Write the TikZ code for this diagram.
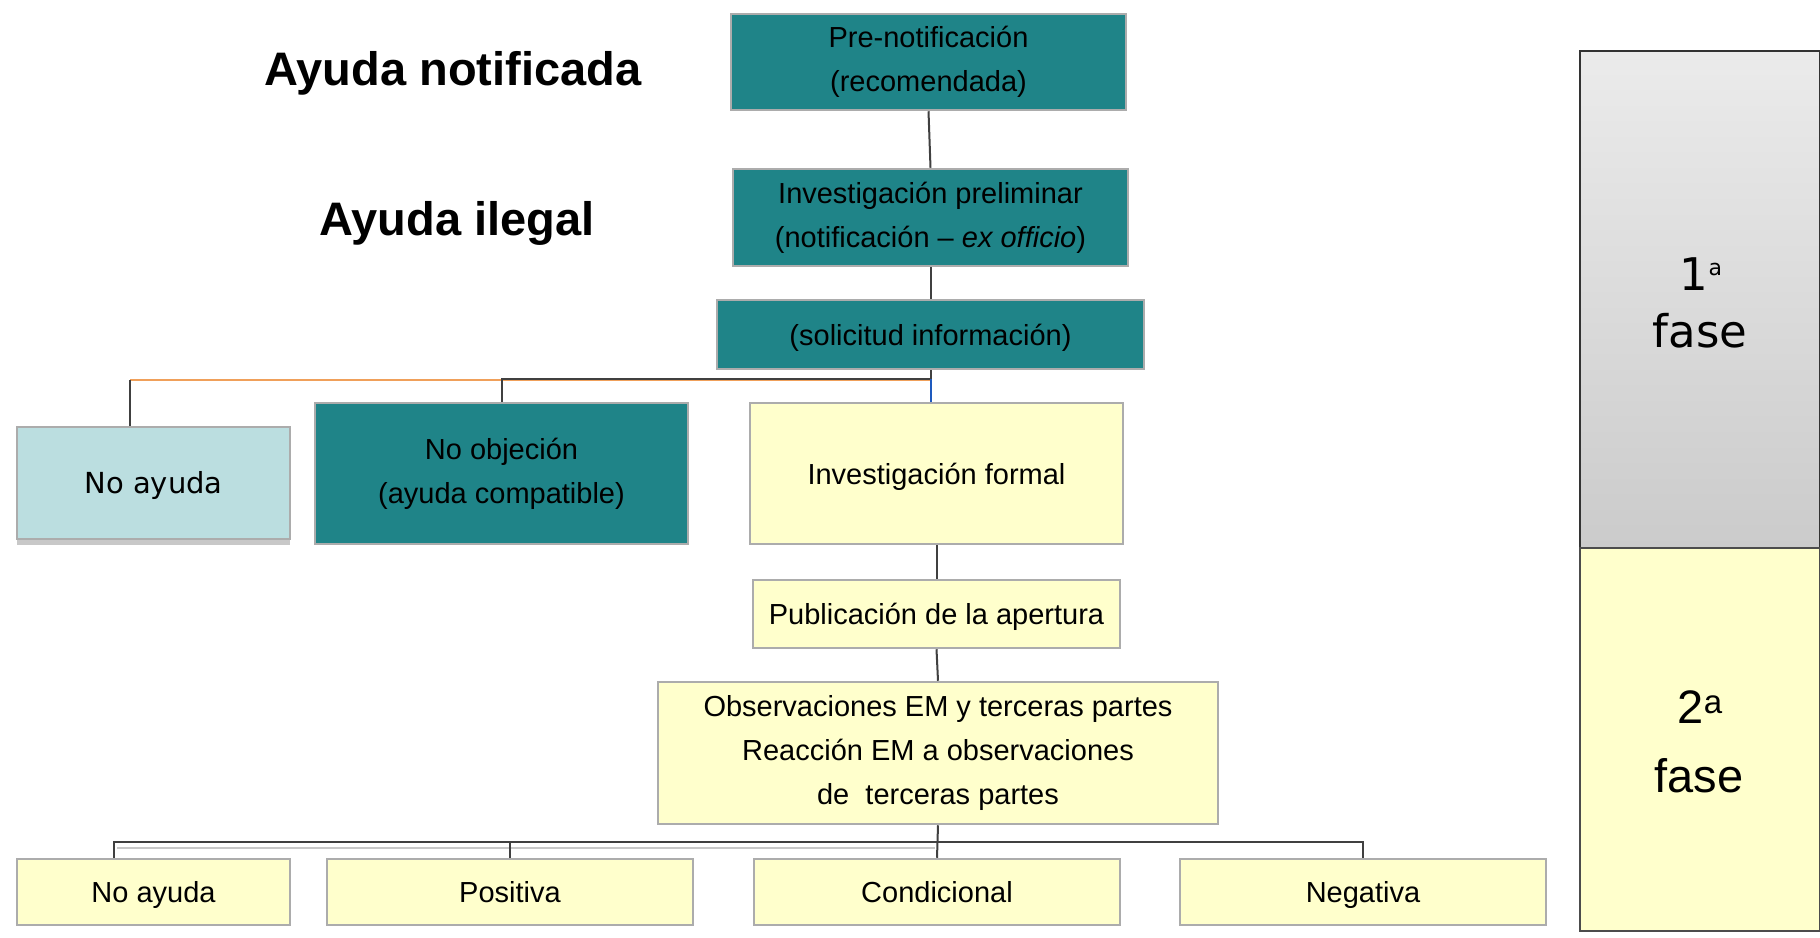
\documentclass[tikz,border=0pt]{standalone}
\usepackage{fontspec}
\setmainfont{Liberation Sans}
\newfontfamily\dejavu{DejaVu Sans}
\usetikzlibrary{calc}
\definecolor{tealfill}{RGB}{31,132,136}
\definecolor{lblue}{RGB}{187,222,224}
\definecolor{lyellow}{RGB}{255,255,204}
\definecolor{bordergray}{RGB}{172,172,172}
\definecolor{linegray}{RGB}{64,64,64}
\definecolor{lorange}{RGB}{240,160,90}
\definecolor{lineblue}{RGB}{30,90,190}
\definecolor{phgraytop}{RGB}{235,235,235}
\definecolor{phgraybot}{RGB}{203,203,203}
\definecolor{shadowgray}{RGB}{200,200,200}
\begin{document}
\begin{tikzpicture}[x=1pt,y=-1pt,
  box/.style={draw=bordergray,line width=2.5pt,inner sep=0pt,align=center,
    font=\fontsize{29}{44}\selectfont,text=black},
  oneline/.style={text height=21pt,text depth=0pt},
  tealbox/.style={box,fill=tealfill},
  ybox/.style={box,fill=lyellow},
  bluebox/.style={box,fill=lblue},
  conn/.style={draw=linegray,line width=2pt},
  title/.style={font=\bfseries\fontsize{47}{56}\selectfont,anchor=base},
  phaseone/.style={font=\dejavu\fontsize{45}{57}\selectfont,anchor=base},
  phasetwo/.style={font=\fontsize{47}{57}\selectfont,anchor=base}]
\useasboundingbox (0,0) rectangle (1820,937);
\fill[white] (0,0) rectangle (1820,937);

% titles
\node[title] (t1) at (453,85) {Ayuda notificada};
\node[title] (t2) at (457,235) {Ayuda ilegal};

% phase column
\node[draw=black!80,line width=2pt,top color=phgraytop,bottom color=phgraybot,
  minimum width=240pt,minimum height=497pt,inner sep=0pt] (ph1) at (1700,299.5) {};
\node[draw=black!70,line width=2pt,fill=lyellow,
  minimum width=240pt,minimum height=383pt,inner sep=0pt] (ph2) at (1700,739.5) {};
\node[phaseone] (ph1a) at (1701,290) {1\raisebox{15pt}{\fontsize{22}{22}\selectfont a}};
\node[phaseone] (ph1b) at (1700,347) {fase};
\node[phasetwo] (ph2a) at (1700,723) {2\raisebox{10pt}{\fontsize{33}{33}\selectfont a}};
\node[phasetwo] (ph2b) at (1699,792) {fase};

% upper chain
\node[tealbox,minimum width=395pt,minimum height=96pt] (pre) at (928.5,62) {Pre-notificación\\(recomendada)};
\node[tealbox,minimum width=395pt,minimum height=97pt] (prel) at (930.5,217.5) {Investigación preliminar\\(notificación – \textit{ex officio})};
\node[tealbox,oneline,minimum width=427pt,minimum height=69pt] (sol) at (930.5,334.5) {(solicitud información)};

% first-phase outcomes
\fill[shadowgray] (17,536) rectangle (290,545);
\node[bluebox,oneline,minimum width=273pt,minimum height=112pt,font=\dejavu\fontsize{29}{44}\selectfont] (noay1) at (153.5,483) {No ayuda};
\node[tealbox,minimum width=373pt,minimum height=141pt] (noobj) at (501.5,473.5) {No objeción\\(ayuda compatible)};
\node[ybox,oneline,minimum width=373pt,minimum height=141pt] (formal) at (936.5,473.5) {Investigación formal};

% second phase
\node[ybox,oneline,minimum width=367pt,minimum height=68pt] (publ) at (936.5,614) {Publicación de la apertura};
\node[ybox,minimum width=560pt,minimum height=142pt] (obs) at (938,753) {Observaciones EM y terceras partes\\Reacción EM a observaciones\\de\ \ terceras partes};

\node[ybox,oneline,minimum width=273pt,minimum height=66pt] (noay2) at (153.5,892) {No ayuda};
\node[ybox,oneline,minimum width=366pt,minimum height=66pt] (pos) at (510,892) {Positiva};
\node[ybox,oneline,minimum width=366pt,minimum height=66pt] (cond) at (937,892) {Condicional};
\node[ybox,oneline,minimum width=366pt,minimum height=66pt] (neg) at (1363,892) {Negativa};

% connectors
\coordinate (bus1) at (931,379);
\coordinate (d1) at (130,380);
\coordinate (bus2) at (937,842);

\draw[conn] (pre.south) -- (prel.north);
\draw[conn] (prel.south) -- (sol.north);
\draw[line width=2pt,draw=lorange] (sol.south |- d1) -- (d1);
\draw[conn] (d1) -- (d1 |- noay1.north);
\draw[conn] (sol.south) -- (sol.south |- bus1) -| (noobj.north);
\draw[line width=2pt,draw=lineblue] (sol.south |- bus1) -- (sol.south |- formal.north);

\draw[conn] (formal.south) -- (publ.north);
\draw[conn] (publ.south) -- (obs.north);
\draw[line width=2pt,draw=shadowgray] (117,848) -- (935,848);
\draw[conn] (obs.south) -- (cond.north);
\draw[conn] (obs.south |- bus2) -| (neg.north);
\draw[conn] (obs.south |- bus2) -| (pos.north);
\draw[conn] (obs.south |- bus2) -| ([xshift=-39.5pt]noay2.north);
\end{tikzpicture}
\end{document}
